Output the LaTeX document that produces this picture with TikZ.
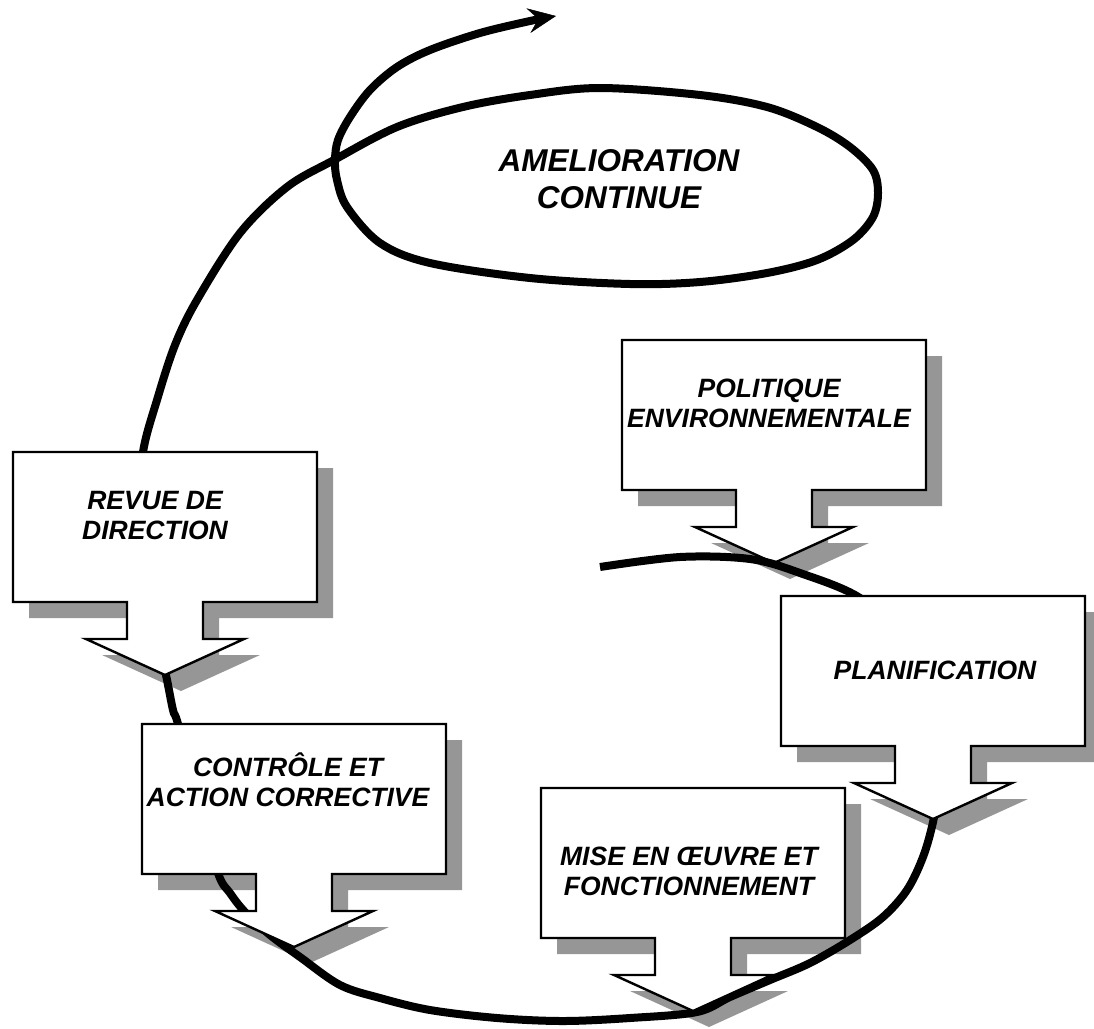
\documentclass[tikz,border=0pt]{standalone}
\usepackage{fontspec}
\setmainfont{Liberation Sans}
\usetikzlibrary{arrows.meta}
\definecolor{shade}{RGB}{150,150,150}

\tikzset{
  % box with a down-pointing arrow under it (top-left corner at the pic origin)
  callout/.pic={
    \path[pic actions] (0,0) -- (304,0) -- (304,150) -- (190,150) -- (190,187)
      -- (231,187) -- (152,223) -- (73,187) -- (114,187) -- (114,150)
      -- (0,150) -- cycle;
  },
  castshadow/.style={fill=shade, draw=none},
  stepshape/.style={fill=white, draw=black, line width=2.4pt, line join=miter},
  steptext/.style={font=\fontsize{26.5}{30}\selectfont\bfseries\itshape,
    align=center, inner sep=0pt},
  looptext/.style={font=\fontsize{31.5}{37}\selectfont\bfseries\itshape,
    align=center, inner sep=0pt},
  spiral/.style={line width=8pt, draw=black, line cap=butt},
}

\begin{document}
\begin{tikzpicture}[x=1pt, y=-1pt]
  \useasboundingbox (0,0) rectangle (1094,1028);
  \clip (0,0) rectangle (1094,1028);

  % drop shadows
  \pic[castshadow] (s1) at (29,468)  {callout};
  \pic[castshadow] (s2) at (158,740) {callout};
  \pic[castshadow] (s3) at (638,356) {callout};
  \pic[castshadow] (s4) at (797,612) {callout};
  \pic[castshadow] (s5) at (557,804) {callout};

  % environmental policy (the spiral passes over it)
  \pic[stepshape] (politique) at (622,340) {callout};
  \node[steptext] (tpolitique) at (769,403) {POLITIQUE\\ENVIRONNEMENTALE};

  % the improvement spiral
  \coordinate (start) at (600,567);
  \draw[spiral, -{Stealth[length=28pt,width=25pt,inset=10pt,line width=0.5pt]}]
    plot[smooth, tension=0.55] coordinates {
      (start) (680,557) (750,559) (800,573) (860,598)
      (905,642) (930,720) (937,790) (933,822)
      (923,857) (907,890) (883,917) (850,940) (810,963) (770,980) (730,997)
      (697,1012) (630,1018) (563,1021) (497,1018) (430,1010) (380,998)
      (340,985) (300,957) (270,935) (245,912) (230,893) (218,873)
      (198,800) (178,724) (173,710) (166,675)
      (150,600) (137,520) (143,452)
      (157,400) (175,345) (197,300) (240,233) (287,187) (334,160)
      (397,127) (463,107) (530,95) (600,88) (700,95) (767,107) (817,127)
      (850,147) (873,170) (878,193) (873,217) (853,240) (817,260) (767,273)
      (700,282) (630,284) (530,278) (430,263) (380,243) (347,207) (337,180)
      (335,160) (338,140) (350,117) (370,90) (397,67) (430,50) (480,33)
      (530,21) (556,16)
    };

  \node[looptext] (amelioration) at (619,179) {AMELIORATION\\CONTINUE};

  % remaining steps of the cycle
  \pic[stepshape] (revue) at (13,452) {callout};
  \node[steptext] (trevue) at (155,516) {REVUE DE\\DIRECTION};

  \pic[stepshape] (controle) at (142,724) {callout};
  \node[steptext] (tcontrole) at (288,780) {CONTRÔLE ET\\ACTION CORRECTIVE};

  \pic[stepshape] (planif) at (781,596) {callout};
  \node[steptext] (tplanif) at (935,670) {PLANIFICATION};

  \pic[stepshape] (mise) at (541,788) {callout};
  \node[steptext] (tmise) at (689,871) {MISE EN ŒUVRE ET\\FONCTIONNEMENT};
\end{tikzpicture}
\end{document}
